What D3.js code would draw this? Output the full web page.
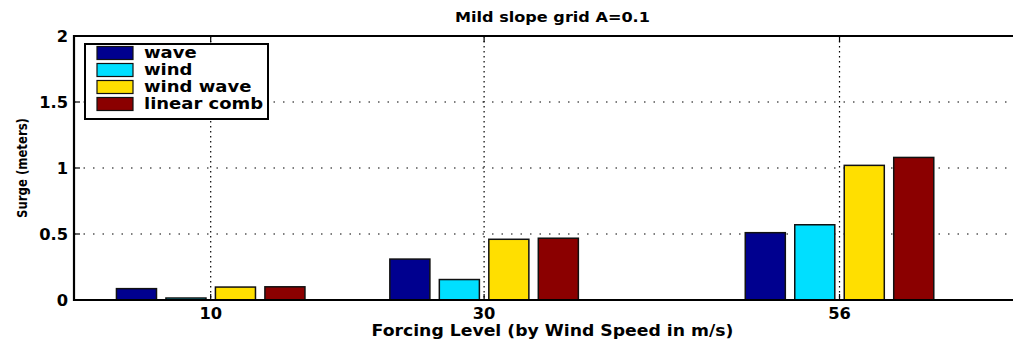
<!DOCTYPE html>
<html>
<head>
<meta charset="utf-8">
<script src="https://cdn.jsdelivr.net/npm/d3@7"></script>
<style>
  html, body { margin: 0; padding: 0; background: #fff; }
  svg { display: block; font-family: "DejaVu Sans", "Liberation Sans", Arial, sans-serif; font-weight: bold; }
</style>
</head>
<body>
<svg id="chart" width="1013" height="344"></svg>
<script>
// Forcing levels (wind speed, m/s) and surge per forcing type
const forcing = [10, 30, 56];
const seriesNames = ["wave", "wind", "wind wave", "linear comb"];
const waveSurge = [0.086, 0.31, 0.51];
const windSurge = [0.015, 0.155, 0.57];
const windWaveSurge = [0.098, 0.46, 1.02];
const linearCombSurge = [0.10, 0.468, 1.08];
const seriesColors = ["#00008f", "#00dfff", "#ffdf00", "#8b0000"];
const yTicks = [0, 0.5, 1, 1.5, 2];
const yTickLabels = ["0", "0.5", "1", "1.5", "2"];

const series = [waveSurge, windSurge, windWaveSurge, linearCombSurge];

const svg = d3.select("#chart");
const plotLeft = 74, plotTop = 36, plotBottom = 300;
const x = d3.scaleLinear().domain([0, 70]).range([plotLeft, plotLeft + 70 * 13.67]);
const y = d3.scaleLinear().domain([0, 2]).range([plotBottom, plotTop]);

// grouped bar geometry in data units
const barStep = 3.62, barWidth = 2.93;

// wide bold lettering: stretch text horizontally about its anchor point
const wide = 1.15;
function label(parent, px, py, str, size, anchor, sx = wide) {
  return parent.append("text")
    .attr("transform", `translate(${px},${py}) scale(${sx},1)`)
    .attr("text-anchor", anchor).attr("font-size", size)
    .text(str);
}

// dotted grid
const grid = svg.append("g").attr("stroke", "#000").attr("stroke-width", 1.2);
grid.selectAll("line.h").data(yTicks.slice(1, -1)).join("line")
  .attr("x1", plotLeft).attr("x2", 1013)
  .attr("y1", d => y(d)).attr("y2", d => y(d))
  .attr("stroke-dasharray", "1.5,8");
grid.selectAll("line.v").data(forcing).join("line")
  .attr("x1", d => x(d)).attr("x2", d => x(d))
  .attr("y1", plotTop).attr("y2", plotBottom)
  .attr("stroke-dasharray", "1.5,3.5");

// bars
series.forEach((vals, si) => {
  svg.append("g").selectAll("rect").data(vals).join("rect")
    .attr("x", (d, i) => x(forcing[i] + (si - 1.5) * barStep - barWidth / 2))
    .attr("width", x(barWidth) - x(0))
    .attr("y", d => y(d))
    .attr("height", d => y(0) - y(d))
    .attr("fill", seriesColors[si])
    .attr("stroke", "#111")
    .attr("stroke-width", 1.5);
});

// axes box
const axisG = svg.append("g").attr("stroke", "#000").attr("stroke-width", 2.2);
axisG.append("line").attr("x1", plotLeft).attr("x2", 1013).attr("y1", plotTop).attr("y2", plotTop);
axisG.append("line").attr("x1", plotLeft).attr("x2", 1013).attr("y1", plotBottom).attr("y2", plotBottom);
axisG.append("line").attr("x1", plotLeft).attr("x2", plotLeft).attr("y1", plotTop - 1).attr("y2", plotBottom + 1);

// inward ticks
const tickG = svg.append("g").attr("stroke", "#000").attr("stroke-width", 1.2);
tickG.selectAll("line.yt").data(yTicks).join("line")
  .attr("x1", plotLeft).attr("x2", plotLeft + 6)
  .attr("y1", d => y(d)).attr("y2", d => y(d));
tickG.selectAll("line.xb").data(forcing).join("line")
  .attr("x1", d => x(d)).attr("x2", d => x(d))
  .attr("y1", plotBottom).attr("y2", plotBottom - 6);
tickG.selectAll("line.xt").data(forcing).join("line")
  .attr("x1", d => x(d)).attr("x2", d => x(d))
  .attr("y1", plotTop).attr("y2", plotTop + 6);

// tick labels
const yLab = svg.append("g");
yTicks.forEach((t, i) => label(yLab, plotLeft - 6, y(t) + 5.5, yTickLabels[i], 15.5, "end", 1.05));
const xLab = svg.append("g");
forcing.forEach(f => label(xLab, x(f), 319, String(f), 15.5, "middle", 1.05));

const centerX = (x(0) + x(70)) / 2;

// title and axis labels
label(svg, centerX, 22, "Mild slope grid A=0.1", 14, "middle");
label(svg, centerX, 336, "Forcing Level (by Wind Speed in m/s)", 15, "middle");
svg.append("text")
  .attr("transform", `translate(27,${(plotTop + plotBottom) / 2}) rotate(-90) scale(0.9,1.15)`)
  .attr("text-anchor", "middle").attr("font-size", 13)
  .text("Surge (meters)");

// legend
const legend = svg.append("g");
legend.append("rect").attr("x", 85).attr("y", 44).attr("width", 183).attr("height", 75)
  .attr("fill", "#fff").attr("stroke", "#000").attr("stroke-width", 2);
const rowY = d3.scalePoint().domain(seriesNames).range([53, 104]);
seriesNames.forEach((name, i) => {
  legend.append("rect").attr("x", 97).attr("y", rowY(name) - 6.5)
    .attr("width", 36).attr("height", 13)
    .attr("fill", seriesColors[i]).attr("stroke", "#111").attr("stroke-width", 1.2);
  label(legend, 144, rowY(name) + 5, name, 15, "start", 1.2);
});
</script>
</body>
</html>
